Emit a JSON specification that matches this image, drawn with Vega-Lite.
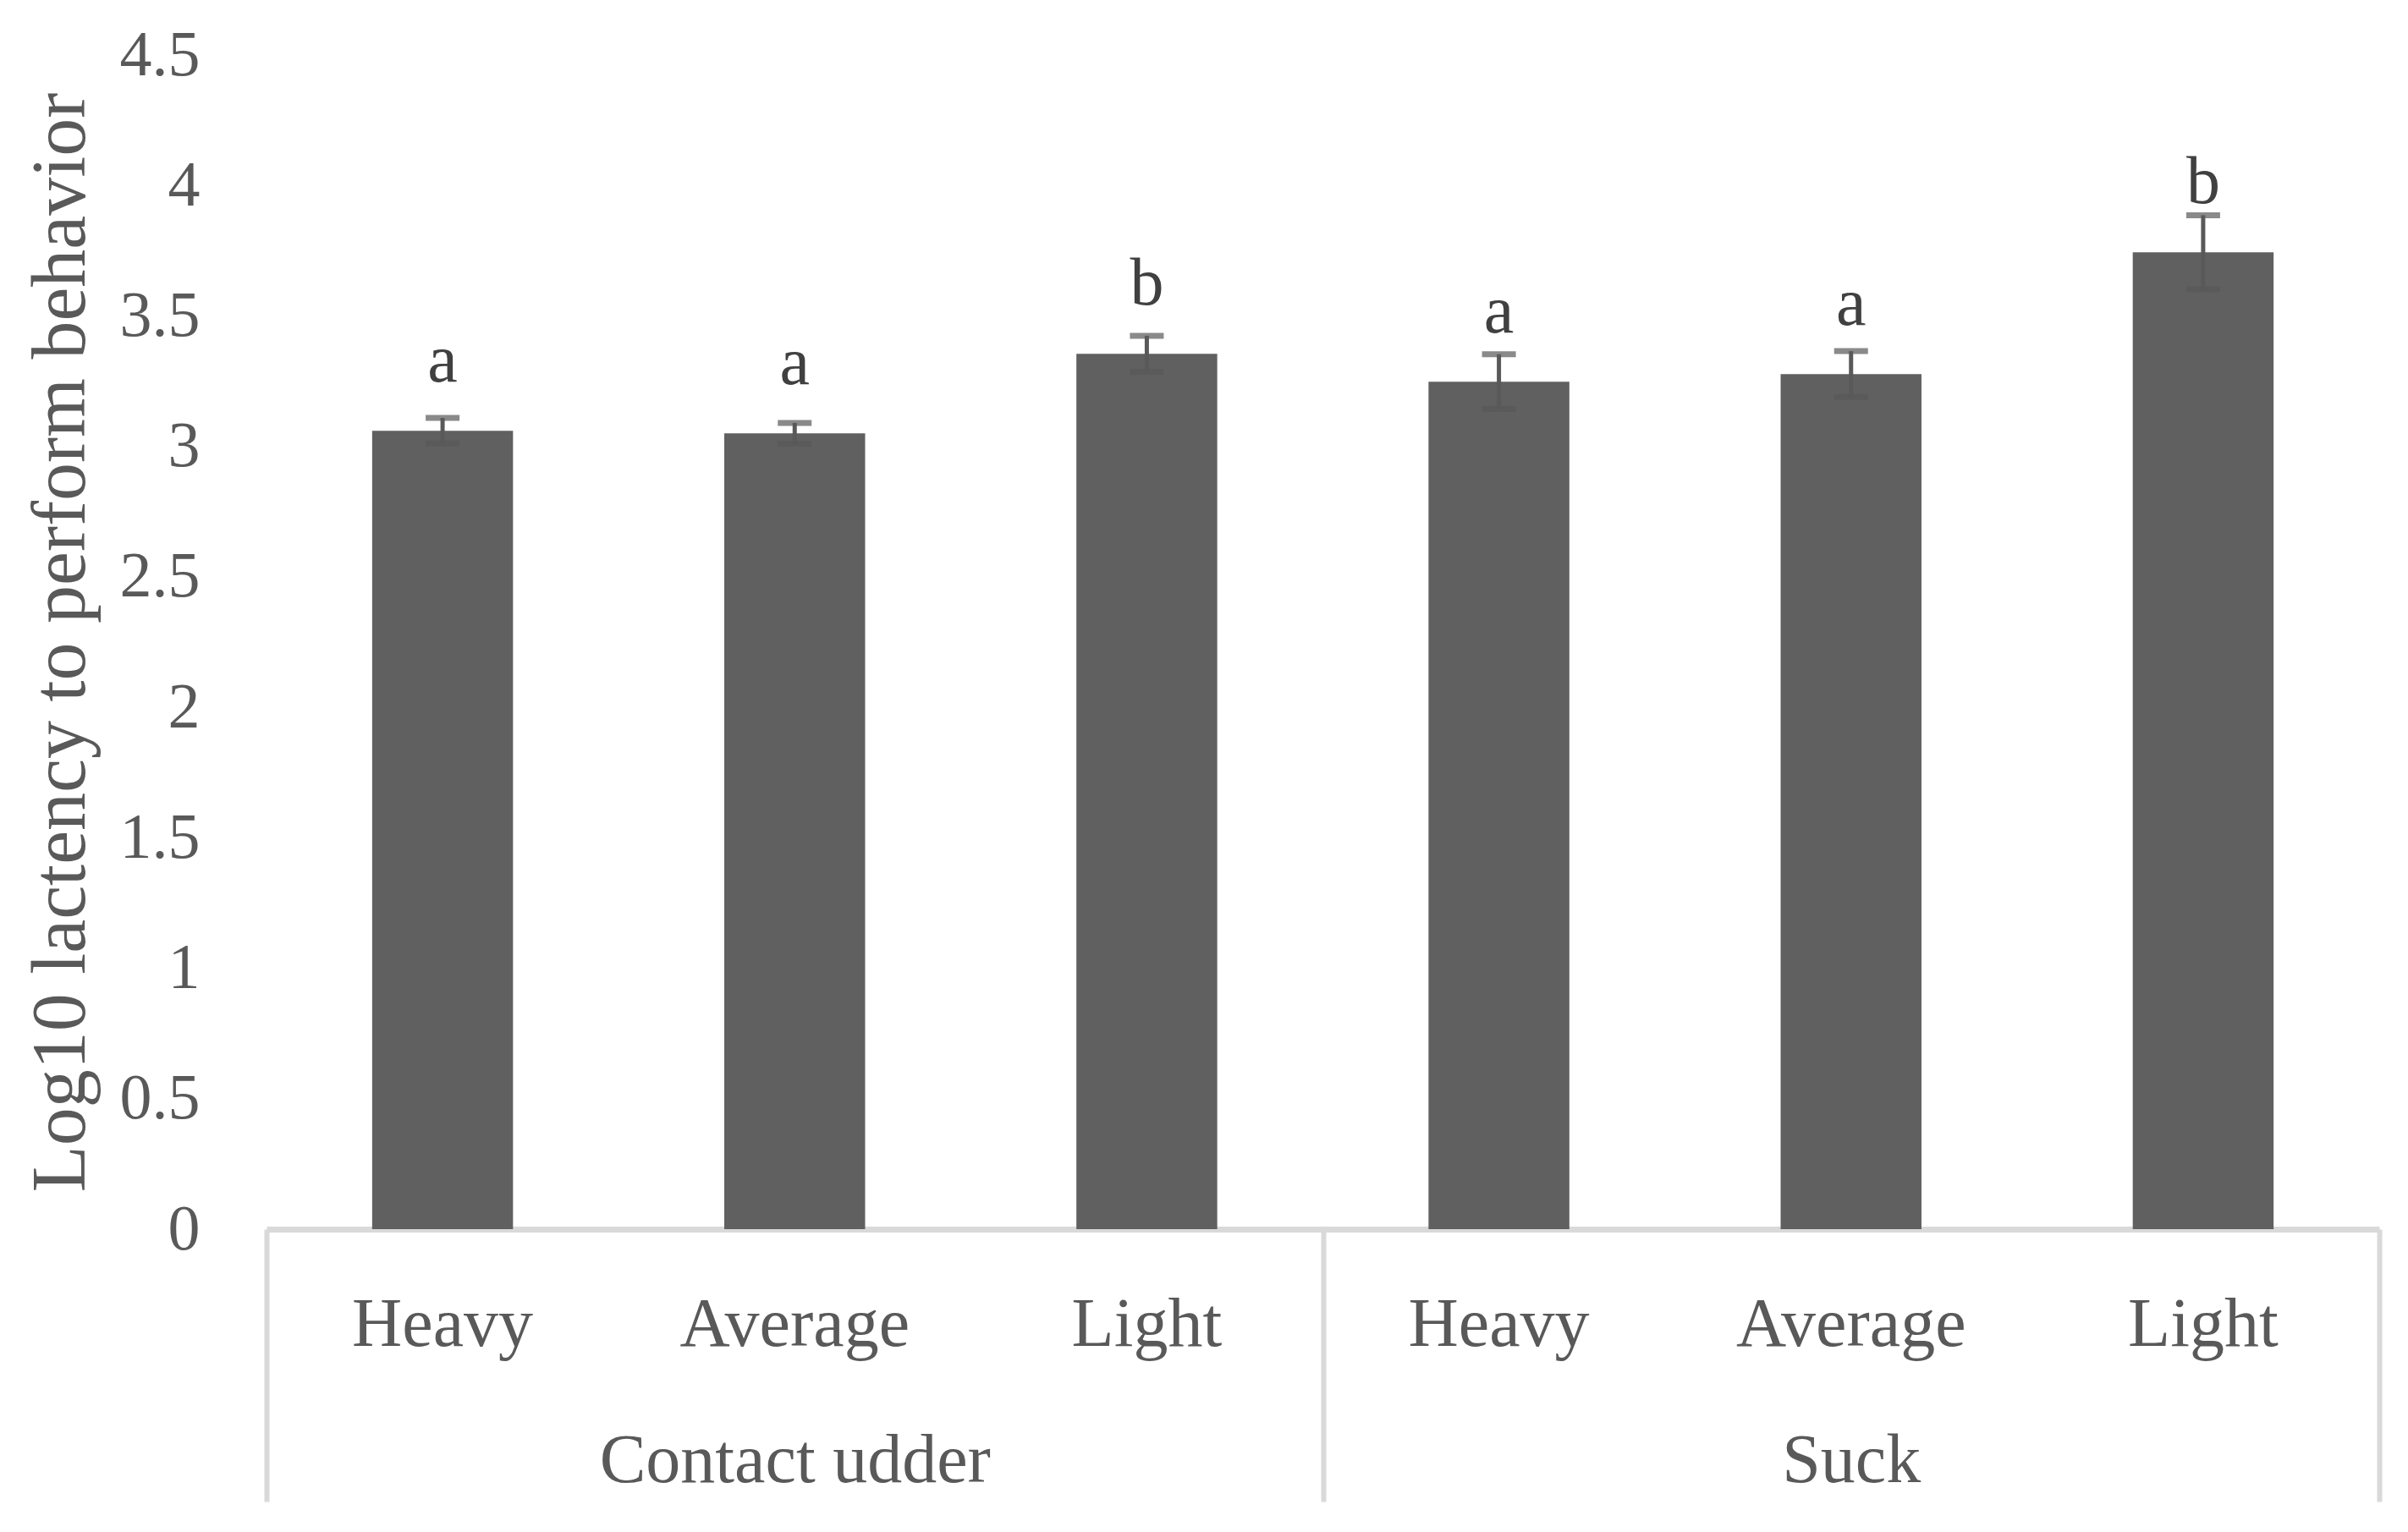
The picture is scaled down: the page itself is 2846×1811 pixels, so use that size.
{
  "$schema": "https://vega.github.io/schema/vega-lite/v6.json",
  "autosize": {"type": "none"},
  "padding": {"left": 315, "top": 65, "right": 34, "bottom": 358},
  "width": 2497,
  "height": 1388,
  "background": "white",
  "config": {"view": {"stroke": null}, "font": "Liberation Serif"},
  "data": {
    "values": [
      {"behavior": "Contact udder", "weight": "Heavy", "key": "Contact udder|Heavy", "mean": 3.06, "se": 0.049, "letter": "a"},
      {"behavior": "Contact udder", "weight": "Average", "key": "Contact udder|Average", "mean": 3.05, "se": 0.04, "letter": "a"},
      {"behavior": "Contact udder", "weight": "Light", "key": "Contact udder|Light", "mean": 3.355, "se": 0.069, "letter": "b"},
      {"behavior": "Suck", "weight": "Heavy", "key": "Suck|Heavy", "mean": 3.248, "se": 0.105, "letter": "a"},
      {"behavior": "Suck", "weight": "Average", "key": "Suck|Average", "mean": 3.277, "se": 0.088, "letter": "a"},
      {"behavior": "Suck", "weight": "Light", "key": "Suck|Light", "mean": 3.744, "se": 0.142, "letter": "b"}
    ]
  },
  "layer": [
    {
      "encoding": {
        "x": {
          "field": "key", "type": "nominal", "sort": null,
          "scale": {"paddingInner": 0.6, "paddingOuter": 0.3},
          "axis": {
            "orient": "bottom", "title": null, "ticks": false,
            "domainColor": "#d9d9d9", "domainWidth": 7,
            "labelExpr": "split(datum.label, '|')[1]",
            "labelFont": "Liberation Serif", "labelFontSize": 82, "labelColor": "#595959",
            "labelPadding": 72, "labelAngle": 0, "labelLimit": 2000, "grid": false
          }
        },
        "y": {
          "field": "mean", "type": "quantitative",
          "scale": {"domain": [0, 4.5], "nice": false, "zero": true},
          "axis": {
            "title": "Log10 lactency to perform behavior",
            "values": [0, 0.5, 1, 1.5, 2, 2.5, 3, 3.5, 4, 4.5],
            "format": ".1~f",
            "ticks": false, "domain": false, "grid": false,
            "labelFont": "Liberation Serif", "labelFontSize": 76, "labelColor": "#595959",
            "labelPadding": 79,
            "titleFont": "Liberation Serif", "titleFontSize": 90, "titleColor": "#595959",
            "titleFontWeight": "normal", "titleX": -216, "titleBaseline": "alphabetic"
          }
        }
      },
      "layer": [
        {"mark": {"type": "bar", "color": "#606060"}},
        {
          "mark": {"type": "errorbar", "color": "#595959", "thickness": 5, "ticks": {"size": 40, "thickness": 7, "color": "#595959"}},
          "encoding": {"yError": {"field": "se"}}
        },
        {
          "mark": {"type": "text", "dy": -58, "baseline": "alphabetic", "font": "Liberation Serif", "fontSize": 80, "color": "#404040"},
          "encoding": {"text": {"field": "letter"}}
        }
      ]
    },
    {
      "mark": {"type": "rule", "opacity": 0},
      "encoding": {
        "x": {
          "field": "behavior", "type": "nominal", "sort": null,
          "scale": {"paddingInner": 0, "paddingOuter": 0},
          "axis": {
            "orient": "bottom", "title": null, "domain": false, "grid": false,
            "ticks": true, "tickBand": "extent", "tickSize": 322, "tickWidth": 6, "tickColor": "#d9d9d9",
            "labelFont": "Liberation Serif", "labelFontSize": 82, "labelColor": "#595959",
            "labelPadding": -89, "labelAngle": 0, "labelLimit": 2000, "offset": 0
          }
        }
      }
    }
  ],
  "resolve": {"scale": {"x": "independent"}, "axis": {"x": "independent"}}
}
